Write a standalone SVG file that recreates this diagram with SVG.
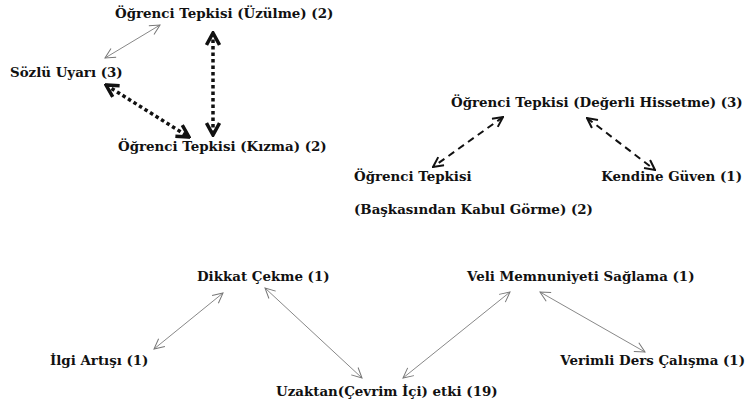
<svg xmlns="http://www.w3.org/2000/svg" width="747" height="405" viewBox="0 0 747 405">
<defs>
<style>
text{font-family:"DejaVu Serif",serif;font-weight:bold;font-size:13.4px;fill:#111}
.e{text-anchor:end}
.thin{stroke:#888;stroke-width:1;fill:none}
.dash{stroke:#111;stroke-width:2;stroke-dasharray:7 5;fill:none}
.dot{stroke:#111;stroke-width:3.5;stroke-dasharray:3.5 3;fill:none}
</style>
<marker id="ta" viewBox="0 0 12 12" refX="11" refY="6" markerWidth="12" markerHeight="12" markerUnits="userSpaceOnUse" orient="auto-start-reverse"><path d="M1,1 L11,6 L1,11" fill="none" stroke="#777" stroke-width="1"/></marker>
<marker id="da" viewBox="0 0 12 12" refX="11" refY="6" markerWidth="12" markerHeight="12" markerUnits="userSpaceOnUse" orient="auto-start-reverse"><path d="M1,1 L11,6 L1,11" fill="none" stroke="#111" stroke-width="2"/></marker>
<marker id="oa" viewBox="0 0 16 16" refX="14" refY="8" markerWidth="16" markerHeight="16" markerUnits="userSpaceOnUse" orient="auto-start-reverse"><path d="M2,1.5 L14,8 L2,14.5" fill="none" stroke="#111" stroke-width="3.5"/></marker>
</defs>
<rect width="747" height="405" fill="#fff"/>
<g id="connectors">
<line class="thin" x1="160" y1="25" x2="105" y2="58" marker-start="url(#ta)" marker-end="url(#ta)"/>
<line class="dot" x1="213" y1="33" x2="213" y2="135" marker-start="url(#oa)" marker-end="url(#oa)"/>
<line class="dot" x1="106" y1="85" x2="189" y2="137" marker-start="url(#oa)" marker-end="url(#oa)"/>
<line class="dash" x1="503" y1="117" x2="433" y2="167" marker-start="url(#da)" marker-end="url(#da)"/>
<line class="dash" x1="587" y1="118" x2="655" y2="170" marker-start="url(#da)" marker-end="url(#da)"/>
<line class="thin" x1="223" y1="293" x2="154" y2="349" marker-start="url(#ta)" marker-end="url(#ta)"/>
<line class="thin" x1="265" y1="288" x2="362" y2="378" marker-start="url(#ta)" marker-end="url(#ta)"/>
<line class="thin" x1="510" y1="292" x2="403" y2="378" marker-start="url(#ta)" marker-end="url(#ta)"/>
<line class="thin" x1="540" y1="292" x2="645" y2="352" marker-start="url(#ta)" marker-end="url(#ta)"/>
</g>
<g id="n1"><text x="115" y="18">Öğrenci Tepkisi (Üzülme) (2)</text></g>
<g id="n2"><text x="10" y="77">Sözlü Uyarı (3)</text></g>
<g id="n3"><text x="118" y="151">Öğrenci Tepkisi (Kızma) (2)</text></g>
<g id="n4"><text x="451" y="107">Öğrenci Tepkisi (Değerli Hissetme) (3)</text></g>
<g id="n5"><text x="354" y="181">Öğrenci Tepkisi</text><text x="354" y="214">(Başkasından Kabul Görme) (2)</text></g>
<g id="n6"><text class="e" x="742" y="181">Kendine Güven (1)</text></g>
<g id="n7"><text x="197" y="281">Dikkat Çekme (1)</text></g>
<g id="n8"><text x="467" y="281">Veli Memnuniyeti Sağlama (1)</text></g>
<g id="n9"><text x="50" y="365">İlgi Artışı (1)</text></g>
<g id="n10"><text class="e" x="745" y="365">Verimli Ders Çalışma (1)</text></g>
<g id="n11"><text x="276" y="396">Uzaktan(Çevrim İçi) etki (19)</text></g>
</svg>
